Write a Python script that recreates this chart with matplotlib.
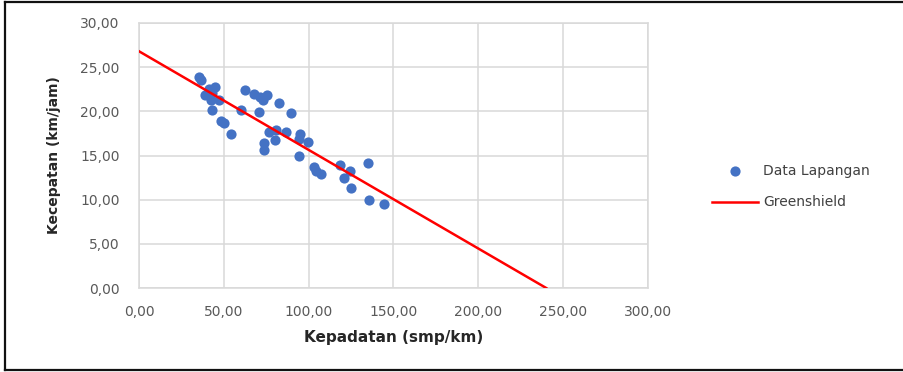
import matplotlib
matplotlib.use("Agg")
import matplotlib.pyplot as plt
from matplotlib.lines import Line2D

# ---- data ----
kepadatan = [35.4, 36.4, 38.8, 41.2, 44.6, 43.2, 42.2, 47.3, 42.9, 48.6,
             50.0, 54.1, 60.2, 62.6, 67.7, 71.1, 72.8, 75.5, 70.7, 82.3,
             89.8, 76.5, 80.6, 79.9, 86.7, 73.8, 73.8, 94.9, 94.2, 99.7,
             94.2, 103.4, 104.1, 107.1, 118.7, 120.7, 124.1, 125.2, 135.0, 135.7,
             144.2]
kecepatan = [23.9, 23.5, 21.9, 22.5, 22.8, 22.1, 21.3, 21.3, 20.1, 18.9,
             18.7, 17.4, 20.2, 22.4, 22.0, 21.6, 21.3, 21.8, 19.9, 20.9,
             19.8, 17.7, 17.9, 16.8, 17.7, 16.4, 15.6, 17.4, 16.9, 16.5,
             14.9, 13.7, 13.2, 12.9, 13.9, 12.5, 13.2, 11.3, 14.1, 10.0,
             9.5]
greenshield_k = [0.0, 240.0]
greenshield_v = [26.8, 0.0]

x_ticks = [0, 50, 100, 150, 200, 250, 300]
y_ticks = [0, 5, 10, 15, 20, 25, 30]
x_ticklabels = ["0,00", "50,00", "100,00", "150,00", "200,00", "250,00", "300,00"]
y_ticklabels = ["0,00", "5,00", "10,00", "15,00", "20,00", "25,00", "30,00"]

W, H = 904, 372
fig = plt.figure(figsize=(W / 100, H / 100), dpi=100)
fig.patch.set_facecolor("white")

ax = fig.add_axes([139 / W, 1 - 288 / H, (648 - 139) / W, (288 - 23) / H])

grid_c = "#D9D9D9"
ax.set_xlim(0, 300)
ax.set_ylim(0, 30)
ax.set_xticks(x_ticks)
ax.set_yticks(y_ticks)
ax.set_xticklabels(x_ticklabels)
ax.set_yticklabels(y_ticklabels)
ax.grid(True, color=grid_c, linewidth=1.1)
ax.set_axisbelow(True)
for s in ax.spines.values():
    s.set_color(grid_c)
    s.set_linewidth(1.1)
ax.tick_params(length=0, labelsize=10, labelcolor="#595959")
ax.tick_params(axis="x", pad=12)
ax.tick_params(axis="y", pad=14)

ax.scatter(kepadatan, kecepatan, s=54, color="#4472C4", zorder=3,
           label="Data Lapangan", linewidths=0)
ax.plot(greenshield_k, greenshield_v, color="#FF0000", linewidth=1.8,
        zorder=4, label="Greenshield")

ax.set_xlabel("Kepadatan (smp/km)", fontsize=11, fontweight="bold",
              color="#262626", labelpad=8)
ax.set_ylabel("Kecepatan (km/jam)", fontsize=10, fontweight="bold",
              color="#262626", labelpad=14)

fig.legend(loc="upper left", bbox_to_anchor=(712 / W, 1 - 164 / H),
           frameon=False, fontsize=10, handlelength=3.3, handletextpad=0.4,
           labelspacing=1.25, borderpad=0, borderaxespad=0, labelcolor="#404040",
           markerscale=1.0)

# outer border
bc = "#111111"
yt = 1 - 2 / H
yb = 1 - 370 / H
xl = 5 / W
for xs, ys in [((xl, 1), (yt, yt)), ((xl, xl), (yt, yb)), ((xl, 1), (yb, yb))]:
    fig.add_artist(Line2D(xs, ys, transform=fig.transFigure, color=bc, linewidth=1.6))

fig.savefig("out.png", dpi=100)
